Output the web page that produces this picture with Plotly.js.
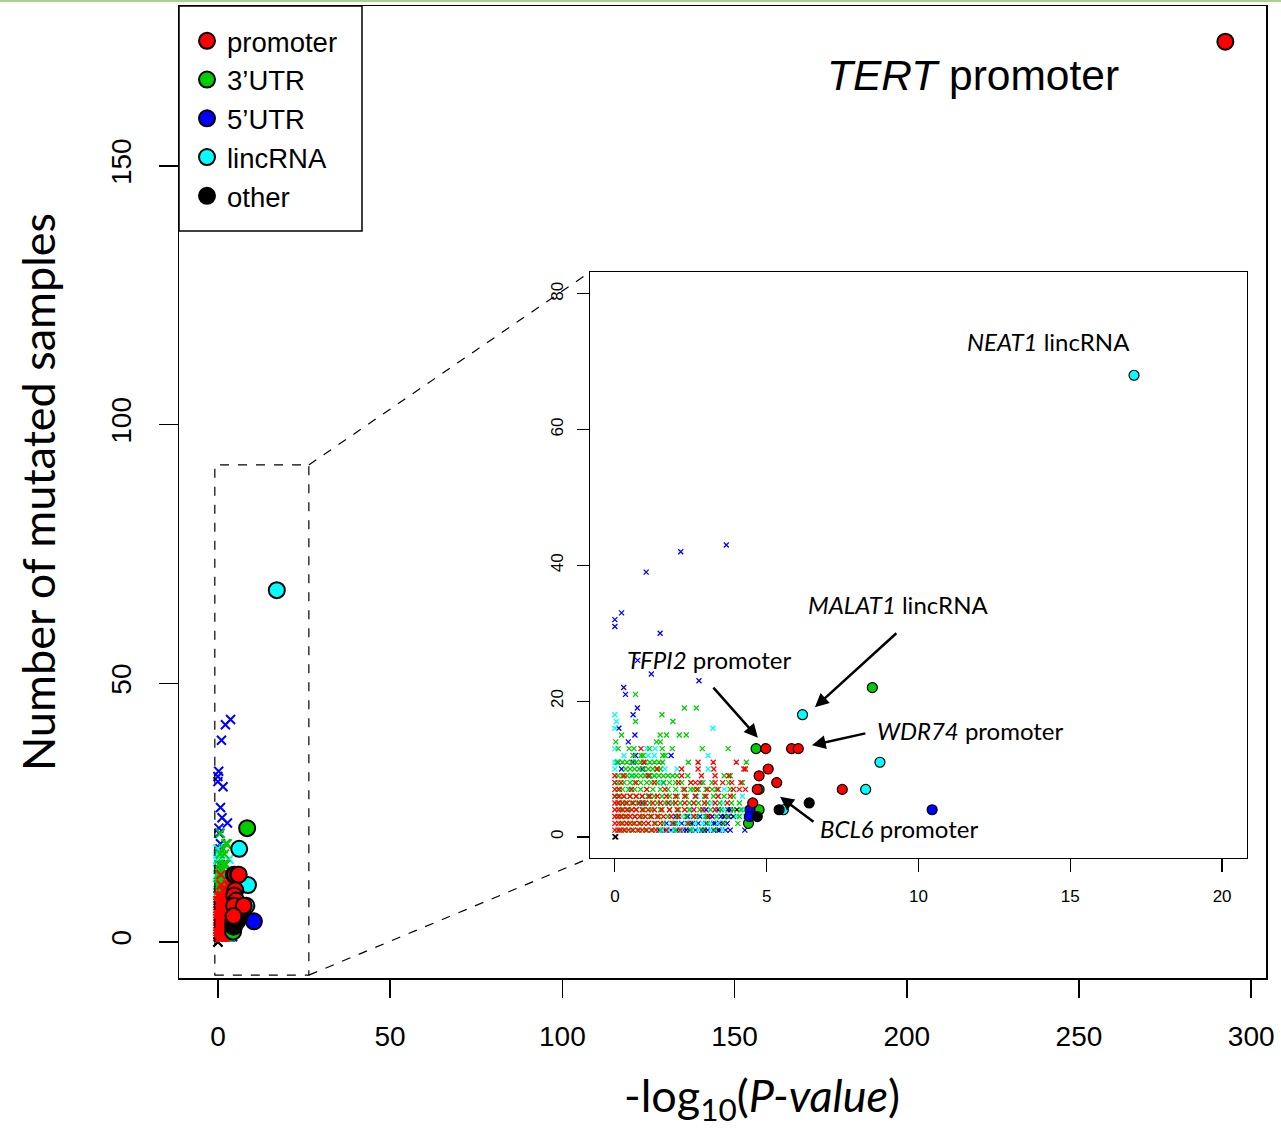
<!DOCTYPE html>
<html><head><meta charset="utf-8">
<script src="https://cdn.plot.ly/plotly-3.0.1.min.js"></script>
<style>html,body{margin:0;padding:0;background:#fff}</style>
</head><body><div id="chart" style="width:1281px;height:1128px"></div>
<script>
// ---- categories ----
const categories = ["promoter", "3\u2019UTR", "5\u2019UTR", "lincRNA", "other"];
const catColors  = ["#FF0000", "#00CD00", "#0000FF", "#00FFFF", "#000000"];

// ---- significant elements (circles) ----
const promoterSigX = [292.5, 4.97, 5.82, 6.04, 5.05, 4.75, 5.33, 4.69, 7.49, 4.54];
const promoterSigY = [174, 13, 13, 13, 10, 9, 8, 7, 7, 5];
const utr3SigX = [8.48, 4.65, 4.75, 4.75, 4.4];
const utr3SigY = [22, 13, 7, 4, 2];
const utr5SigX = [10.45, 4.45, 4.43];
const utr5SigY = [4, 4, 3];
const lincSigX = [17.1, 6.18, 8.73, 8.26, 5.55];
const lincSigY = [68, 18, 11, 7, 4];
const otherSigX = [6.40, 5.41, 4.69];
const otherSigY = [5, 4, 3];

// ---- non-significant elements (crosses), one x-list per mutated-sample count ----
const promoterNsY = [1, 2, 3, 4, 5, 6, 7, 8, 9, 10, 11, 13];
const promoterNsX = [
  [0,0.1,0.2,0.3,0.45,0.6,0.75,0.9,1.05,1.2,1.35,1.7,2.15],
  [0,0.12,0.25,0.38,0.5,0.65,0.8,0.95,1.1,1.3,1.5,1.9,2.4],
  [0,0.1,0.22,0.35,0.5,0.66,0.82,1.0,1.2,1.4,1.6,1.85,2.1,2.6,3.1],
  [0,0.12,0.26,0.4,0.55,0.7,0.9,1.1,1.3,1.55,1.8,2.05,2.3,2.6,2.9,3.3],
  [0,0.1,0.25,0.4,0.6,0.8,1.0,1.25,1.5,1.75,2.0,2.3,2.6,2.95,3.3,3.7],
  [0,0.15,0.3,0.5,0.7,0.9,1.15,1.4,1.7,2.0,2.3,2.65,3.0,3.4,3.8],
  [0,0.15,0.55,1.05,1.65,2.3,2.7,3.05,3.4,3.9,4.1,4.3],
  [0,0.2,0.7,1.3,2.1,2.5,2.65,2.8,3.3,3.55,3.85,4.15],
  [0,0.3,1.1,2.2,2.85,3.3,3.75],
  [1.4,2.2,2.74,3.26,4.25,4.3],
  [0.95,2.74,3.24,4.0],
  [0.86]
];
const utr3NsY = [1, 2, 3, 4, 5, 6, 7, 8, 9, 10, 11, 12, 13, 14, 15, 17, 18, 19, 21];
const utr3NsX = [
  [0.15,0.35,0.55,0.8,1.0,1.25,1.5,2.0,2.5,2.9,3.3],
  [0.2,0.4,0.6,0.85,1.1,1.35,1.6,2.0,2.45,3.05,3.6,4.05],
  [0.18,0.4,0.65,0.9,1.15,1.45,1.75,2.05,2.35,2.7,3.0,3.35,3.7,4.1],
  [0.2,0.45,0.7,0.95,1.2,1.5,1.8,2.1,2.45,2.8,3.15,3.5,3.9,4.15],
  [0.15,0.35,0.55,0.75,0.95,1.15,1.4,1.65,1.9,2.15,2.45,2.75,3.05,3.45,3.84,4.1],
  [0.1,0.3,0.5,0.7,0.9,1.1,1.3,1.55,1.8,2.05,2.35,2.65,2.95,3.25,3.6,3.9],
  [0.1,0.25,0.45,0.65,0.85,1.05,1.25,1.5,1.75,2.0,2.25,2.5,2.6,2.75,3.0,3.2,3.35,3.8],
  [0.1,0.3,0.5,0.65,0.85,1.05,1.2,1.4,1.6,1.8,2.0,2.2,2.5,2.9,3.2,3.75,4.2],
  [0.1,0.25,0.4,0.55,0.7,0.85,1.0,1.15,1.3,1.45,1.6,1.75,1.9,2.05,2.4,3.6,3.8],
  [0.36,0.5,0.65,0.8,0.95,1.1,1.25,1.37,1.5],
  [0.09,0.25,0.4,0.55,0.7,0.85,1.0,1.15,1.3,1.45,1.57,2.42,4.33],
  [0.6,0.86,0.93,1.58,1.66],
  [0.11,0.47,0.63,1.14,1.56,1.89,2.88,3.73],
  [0.03,1.37,1.5],
  [0.22,1.49,1.7,2.12,2.35],
  [0.68,1.91],
  [1.55],
  [2.29,2.68],
  [0.68]
];
const lincNsY = [1, 2, 3, 4, 5, 6, 7, 8, 9, 10, 11, 12, 13, 16, 17, 18];
const lincNsX = [
  [1.55,1.75,1.95,2.2,2.55,2.75,3.15,3.55],
  [1.6,1.85,2.1,2.35,2.65,2.9,3.15,3.4],
  [2.2,2.55,2.95,3.35,4.0,4.3],
  [2.5,2.9,3.3,3.6,4.2],
  [1.8,2.6,3.2,3.57],
  [0,2.7,3.4,4.2],
  [0.5,3.6],
  [0,1.5,2.85],
  [0.6,1.0,1.3],
  [0,1.65,2.05,3.07],
  [0,0.05],
  [0.3,1.1,1.3,3.07],
  [0,1.05,1.33],
  [0,3.23],
  [0.05],
  [0]
];
const utr5NsY = [1, 2, 3, 4, 5, 6, 8, 9, 10, 11, 12, 14, 15, 16, 18, 19, 21, 22, 23, 24, 26, 30, 31, 32, 33, 39, 42, 43];
const utr5NsX = [
  [1.45,1.65,1.85,2.05,2.25,2.45,2.65,2.85,3.05,3.25,3.45,3.65,3.8,4.28],
  [1.7,1.95,2.2,2.5,2.75,3.0,3.25,3.45,3.7],
  [2.0,2.4,2.8,3.2,3.5,3.75],
  [3.0,3.4,3.8],
  [0.9], [1.1], [1.6], [1.15],
  [0.22,0.9], [0.1,0.6], [0.68,1.85],
  [0.44], [0.66], [0.13], [0.6], [0.74], [0.35], [0.29], [2.77], [1.2], [0.75],
  [1.49], [0], [0], [0.22], [1.03], [2.17], [3.67]
];
const otherNsY = [0, 1, 2, 3, 4];
const otherNsX = [
  [0,0.03],
  [2.35,2.95,3.4],
  [2.55,3.3,3.55],
  [3.05,3.6,3.9],
  [3.72,4.02]
];

// ---- axes ranges / zoom box ----
const mainXRange = [-11.3, 304.3];
const mainYRange = [-6.96, 180.9];
const insetXRange = [-0.82, 20.82];
const insetYRange = [-3.1, 83.2];
const insetXDomain = [0.3781, 0.9825];
const insetYDomain = [0.1235, 0.7263];
const zoomBox = {x0: -0.9, x1: 26.4, y0: -6.4, y1: 92.2};
// legend frame in paper fractions
const legendBox = {x0: 0, x1: 183 / 1087, y0: 747 / 972, y1: 1};

function flatten(ys, xs) {
  const X = [], Y = [];
  ys.forEach((y, i) => xs[i].forEach(x => { X.push(x); Y.push(y); }));
  return {x: X, y: Y};
}

// drawing order of the crosses (red on top)
const nsSets = [
  {cat: 4, d: flatten(otherNsY, otherNsX)},
  {cat: 2, d: flatten(utr5NsY, utr5NsX)},
  {cat: 3, d: flatten(lincNsY, lincNsX)},
  {cat: 1, d: flatten(utr3NsY, utr3NsX)},
  {cat: 0, d: flatten(promoterNsY, promoterNsX)}
];
// drawing order of the circles (red on top); legend order via legendrank
const sigSets = [
  {cat: 3, x: lincSigX, y: lincSigY},
  {cat: 1, x: utr3SigX, y: utr3SigY},
  {cat: 2, x: utr5SigX, y: utr5SigY},
  {cat: 4, x: otherSigX, y: otherSigY},
  {cat: 0, x: promoterSigX, y: promoterSigY}
];

const traces = [];
// main panel
nsSets.forEach(s => traces.push({
  type: 'scatter', mode: 'markers', x: s.d.x, y: s.d.y, xaxis: 'x', yaxis: 'y',
  showlegend: false, hoverinfo: 'skip',
  marker: {symbol: 'x-thin-open', size: 9, color: catColors[s.cat], line: {width: 2, color: catColors[s.cat]}}
}));
sigSets.forEach(s => traces.push({
  type: 'scatter', mode: 'markers', x: s.x, y: s.y, xaxis: 'x', yaxis: 'y',
  name: categories[s.cat], showlegend: true, legendrank: s.cat + 1,
  marker: {symbol: 'circle', size: 16, color: catColors[s.cat], line: {width: 2, color: '#000'}}
}));
// inset panel
nsSets.forEach(s => traces.push({
  type: 'scatter', mode: 'markers', x: s.d.x, y: s.d.y, xaxis: 'x2', yaxis: 'y2',
  showlegend: false, hoverinfo: 'skip',
  marker: {symbol: 'x-thin-open', size: 5, color: catColors[s.cat], line: {width: 1.3, color: catColors[s.cat]}}
}));
sigSets.forEach(s => traces.push({
  type: 'scatter', mode: 'markers', x: s.x, y: s.y, xaxis: 'x2', yaxis: 'y2',
  showlegend: false,
  marker: {symbol: 'circle', size: 10, color: catColors[s.cat], line: {width: 1.2, color: '#000'}}
}));

// connectors from zoom box to inset (paper coords derived from axis ranges)
const px = v => (v - mainXRange[0]) / (mainXRange[1] - mainXRange[0]);
const py = v => (v - mainYRange[0]) / (mainYRange[1] - mainYRange[0]);
const dashLine = {color: '#000', width: 1.2, dash: 'dash'};

const shapes = [
  {type: 'rect', xref: 'x', yref: 'y', x0: zoomBox.x0, x1: zoomBox.x1, y0: zoomBox.y0, y1: zoomBox.y1, line: dashLine, layer: 'above'},
  {type: 'line', xref: 'paper', yref: 'paper', x0: px(zoomBox.x1), y0: py(zoomBox.y1), x1: insetXDomain[0], y1: insetYDomain[1], line: dashLine},
  {type: 'line', xref: 'paper', yref: 'paper', x0: px(zoomBox.x1), y0: py(zoomBox.y0), x1: insetXDomain[0], y1: insetYDomain[0], line: dashLine},
  {type: 'rect', xref: 'paper', yref: 'paper', x0: legendBox.x0, x1: legendBox.x1, y0: legendBox.y0, y1: legendBox.y1,
   line: {color: '#000', width: 1.5}, fillcolor: '#fff', layer: 'above'},
  {type: 'line', xref: 'paper', yref: 'paper', x0: -179/1087, x1: 1102/1087, y0: 1 + 5/972, y1: 1 + 5/972, line: {color: '#a9d18e', width: 2}}
];

const annFont = {family: 'Lato, sans-serif', size: 24, color: '#000'};
const labels = [
  {text: '<i>NEAT1</i> lincRNA', x: 11.53, y: 73.0},
  {text: '<i>MALAT1</i> lincRNA', x: 6.29, y: 34.2},
  {text: '<i>TFPI2</i> promoter', x: 0.33, y: 26.1},
  {text: '<i>WDR74</i> promoter', x: 8.57, y: 15.6},
  {text: '<i>BCL6</i> promoter', x: 6.69, y: 1.3}
];
const arrows = [
  {x: 6.59, y: 19.1, ax: 9.32, ay: 30.2},
  {x: 4.71, y: 14.6, ax: 3.2, ay: 22.2},
  {x: 6.49, y: 13.5, ax: 8.3, ay: 15.3},
  {x: 5.44, y: 5.9, ax: 6.59, ay: 2.06}
];
const annotations = [];
labels.forEach(l => annotations.push({
  xref: 'x2', yref: 'y2', x: l.x, y: l.y, text: l.text, showarrow: false,
  xanchor: 'left', yanchor: 'middle', font: annFont
}));
arrows.forEach(a => annotations.push({
  xref: 'x2', yref: 'y2', x: a.x, y: a.y, ax: a.ax, ay: a.ay, axref: 'x2', ayref: 'y2',
  text: '', showarrow: true, arrowhead: 2, arrowsize: 1.1, arrowwidth: 2.5, arrowcolor: '#000'
}));
annotations.push({
  xref: 'paper', yref: 'paper', x: 0.7305, y: 0.928, text: '<i>TERT</i> promoter', showarrow: false,
  xanchor: 'center', yanchor: 'middle', font: {family: 'Liberation Sans, Arial, sans-serif', size: 42.5, color: '#000'}
});
// x-axis title (placed as in the reference, slightly right of the axis centre)
annotations.push({
  xref: 'paper', yref: 'paper', x: 0.5363, y: -0.1235, text: '-log<sub>10</sub>(<i>P-value</i>)', showarrow: false,
  xanchor: 'center', yanchor: 'middle', font: {family: 'Lato, sans-serif', size: 45, color: '#000'}
});

const tickFont = {family: 'Liberation Sans, Arial, sans-serif', size: 28, color: '#000'};
const legendFont = {family: 'Liberation Sans, Arial, sans-serif', size: 27.5, color: '#000'};
const smallTickFont = {family: 'Liberation Sans, Arial, sans-serif', size: 17, color: '#000'};

const layout = {
  width: 1281, height: 1128,
  margin: {l: 179, r: 15, t: 6, b: 150},
  paper_bgcolor: '#fff', plot_bgcolor: '#fff',
  showlegend: true,
  legend: {
    x: 0, y: 1, xanchor: 'left', yanchor: 'top', bgcolor: 'rgba(0,0,0,0)',
    borderwidth: 0, font: legendFont, indentation: 8,
    title: {text: ' ', font: {size: 8}},
    itemclick: false
  },
  xaxis: {
    domain: [0, 1], range: mainXRange, anchor: 'y',
    tickvals: [0, 50, 100, 150, 200, 250, 300], ticks: 'outside', ticklen: 18, tickwidth: 1.5,
    tickcolor: '#000', tickfont: tickFont, ticklabelstandoff: 15,
    showline: true, mirror: true, linecolor: '#000', linewidth: 1.5,
    showgrid: false, zeroline: false
  },
  yaxis: {
    domain: [0, 1], range: mainYRange, anchor: 'x',
    tickvals: [0, 50, 100, 150], ticks: 'outside', ticklen: 19, tickwidth: 1.5, tickangle: -90,
    tickcolor: '#000', tickfont: tickFont, ticklabelstandoff: 16,
    showline: true, mirror: true, linecolor: '#000', linewidth: 1.5,
    showgrid: false, zeroline: false,
    title: {text: 'Number of mutated samples', font: {family: 'Lato, sans-serif', size: 45, color: '#000'}, standoff: 36}
  },
  xaxis2: {
    domain: insetXDomain, range: insetXRange, anchor: 'y2',
    tickvals: [0, 5, 10, 15, 20], ticks: 'outside', ticklen: 13, tickwidth: 1.2,
    tickcolor: '#000', tickfont: smallTickFont, ticklabelstandoff: 9,
    showline: true, mirror: true, linecolor: '#000', linewidth: 1.2,
    showgrid: false, zeroline: false
  },
  yaxis2: {
    domain: insetYDomain, range: insetYRange, anchor: 'x2',
    tickvals: [0, 20, 40, 60, 80], ticks: 'outside', ticklen: 12, tickwidth: 1.2, tickangle: -90,
    tickcolor: '#000', tickfont: smallTickFont, ticklabelstandoff: 7,
    showline: true, mirror: true, linecolor: '#000', linewidth: 1.2,
    showgrid: false, zeroline: false
  },
  shapes: shapes,
  annotations: annotations
};

Plotly.newPlot('chart', traces, layout, {staticPlot: true, displayModeBar: false});
</script>
</body></html>
